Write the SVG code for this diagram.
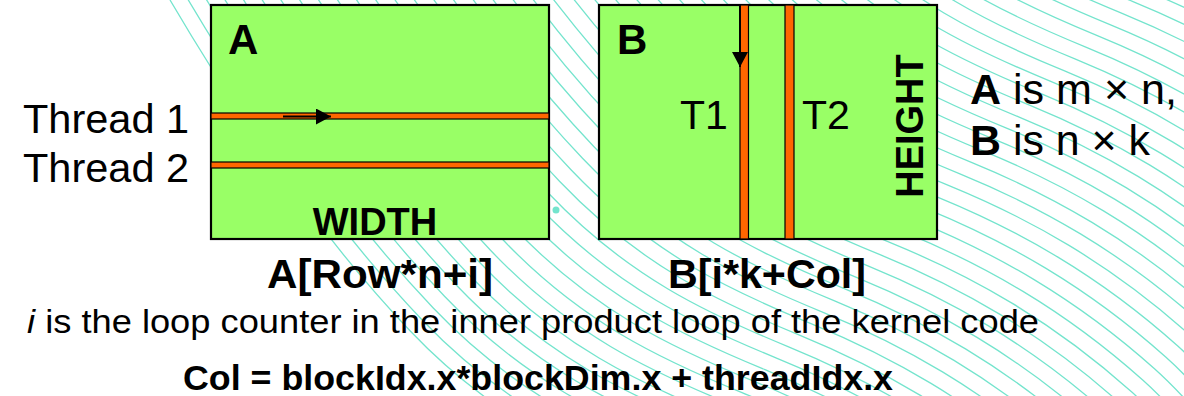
<svg xmlns="http://www.w3.org/2000/svg" xmlns:xlink="http://www.w3.org/1999/xlink" width="1184" height="396" viewBox="0 0 1184 396">
<style>
.wave{fill:none;stroke:#74e4cd;stroke-width:1.3}
.mat{fill:#99ff66;stroke:#000;stroke-width:2.2}
.strip{fill:#ff6600;stroke:#000;stroke-width:1.2}
.t{font-family:"Liberation Sans",Arial,sans-serif;fill:#000}
.b{font-weight:bold}
.arr{stroke:#000;stroke-width:2;fill:none}
</style>
<defs>
<path id="wave" d="M170,0 C250,136 330,246.6 410,330.8 C490,415 570,451.8 650,484.6 C730,517.4 810,561.7 890,633.3 C930,669.1 970,721.3 1010,770.9"/>
<marker id="ah" markerWidth="16" markerHeight="16" refX="15" refY="8" orient="auto" markerUnits="userSpaceOnUse"><path d="M0,0 L15,8 L0,16 Z" fill="#000"/></marker>
</defs>
<rect width="1184" height="396" fill="#fff"/>
<g id="background" class="wave">
<use href="#wave"/><use href="#wave" transform="translate(11.5,-11.5)"/><use href="#wave" transform="translate(23,-23)"/><use href="#wave" transform="translate(34.5,-34.5)"/><use href="#wave" transform="translate(46,-46)"/><use href="#wave" transform="translate(57.5,-57.5)"/><use href="#wave" transform="translate(69,-69)"/><use href="#wave" transform="translate(80.5,-80.5)"/><use href="#wave" transform="translate(92,-92)"/><use href="#wave" transform="translate(103.5,-103.5)"/><use href="#wave" transform="translate(115,-115)"/><use href="#wave" transform="translate(126.5,-126.5)"/><use href="#wave" transform="translate(138,-138)"/><use href="#wave" transform="translate(149.5,-149.5)"/><use href="#wave" transform="translate(161,-161)"/><use href="#wave" transform="translate(172.5,-172.5)"/><use href="#wave" transform="translate(184,-184)"/><use href="#wave" transform="translate(195.5,-195.5)"/><use href="#wave" transform="translate(207,-207)"/><use href="#wave" transform="translate(218.5,-218.5)"/><use href="#wave" transform="translate(230,-230)"/><use href="#wave" transform="translate(241.5,-241.5)"/><use href="#wave" transform="translate(253,-253)"/><use href="#wave" transform="translate(264.5,-264.5)"/><use href="#wave" transform="translate(276,-276)"/><use href="#wave" transform="translate(287.5,-287.5)"/><use href="#wave" transform="translate(299,-299)"/><use href="#wave" transform="translate(310.5,-310.5)"/><use href="#wave" transform="translate(322,-322)"/><use href="#wave" transform="translate(333.5,-333.5)"/><use href="#wave" transform="translate(345,-345)"/><use href="#wave" transform="translate(356.5,-356.5)"/><use href="#wave" transform="translate(368,-368)"/><use href="#wave" transform="translate(379.5,-379.5)"/><use href="#wave" transform="translate(391,-391)"/><use href="#wave" transform="translate(402.5,-402.5)"/><use href="#wave" transform="translate(414,-414)"/><use href="#wave" transform="translate(425.5,-425.5)"/><use href="#wave" transform="translate(437,-437)"/><use href="#wave" transform="translate(448.5,-448.5)"/><use href="#wave" transform="translate(460,-460)"/><use href="#wave" transform="translate(471.5,-471.5)"/><use href="#wave" transform="translate(483,-483)"/><use href="#wave" transform="translate(494.5,-494.5)"/><use href="#wave" transform="translate(506,-506)"/>
<circle cx="556" cy="210" r="3.5" fill="#74e4cd" stroke="none"/>
</g>
<g id="matrixA">
<rect class="mat" x="211" y="5" width="338" height="234"/>
<rect class="strip" x="211" y="113" width="338" height="6"/>
<rect class="strip" x="211" y="162" width="338" height="6"/>
<text class="t b" x="228" y="54" font-size="42">A</text>
<text class="t b" x="375" y="235" font-size="38" text-anchor="middle">WIDTH</text>
</g>
<g id="matrixB">
<rect class="mat" x="599" y="5" width="338" height="234"/>
<rect class="strip" x="740" y="5" width="8.5" height="234"/>
<rect class="strip" x="785" y="5" width="9" height="234"/>
<text class="t b" x="617" y="54" font-size="42">B</text>
<text class="t" x="680" y="128.5" font-size="41">T1</text>
<text class="t" x="802" y="128.5" font-size="41">T2</text>
<text class="t b" font-size="38" text-anchor="middle" transform="translate(922.5,126) rotate(-90)">HEIGHT</text>
</g>
<g id="connectors">
<line class="arr" x1="283" y1="116.5" x2="331" y2="116.5" marker-end="url(#ah)"/>
<line class="arr" x1="740" y1="5" x2="740" y2="67" marker-end="url(#ah)"/>
</g>
<g id="threadLabels">
<text class="t" x="23" y="132.5" font-size="41.5">Thread 1</text>
<text class="t" x="23" y="181.5" font-size="41.5">Thread 2</text>
</g>
<g id="dims">
<text class="t" x="970" y="103.5" font-size="42" textLength="207" lengthAdjust="spacingAndGlyphs"><tspan class="b">A</tspan> is m × n,</text>
<text class="t" x="970" y="154.5" font-size="42" textLength="180" lengthAdjust="spacingAndGlyphs"><tspan class="b">B</tspan> is n × k</text>
</g>
<g id="indexA"><text class="t b" x="267" y="288" font-size="41" textLength="226" lengthAdjust="spacingAndGlyphs">A[Row*n+i]</text></g>
<g id="indexB"><text class="t b" x="668" y="288" font-size="41" textLength="198" lengthAdjust="spacingAndGlyphs">B[i*k+Col]</text></g>
<g id="note"><text class="t" x="27" y="333" font-size="34" textLength="1012" lengthAdjust="spacingAndGlyphs"><tspan font-style="italic">i</tspan> is the loop counter in the inner product loop of the kernel code</text></g>
<g id="colFormula"><text class="t b" x="183" y="390" font-size="35.5" textLength="710" lengthAdjust="spacingAndGlyphs">Col = blockIdx.x*blockDim.x + threadIdx.x</text></g>
</svg>
